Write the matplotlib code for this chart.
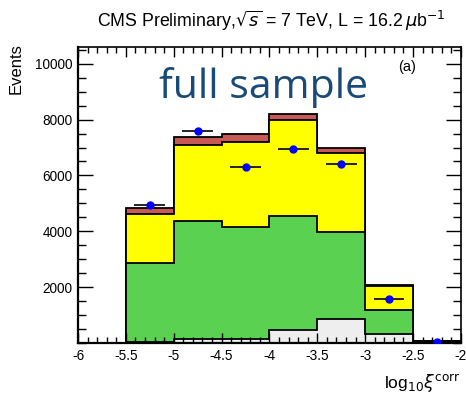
import numpy as np
import matplotlib.pyplot as plt
from matplotlib.ticker import MultipleLocator

# bin edges in log10(xi_corr)
edges = np.array([-5.5, -5.0, -4.5, -4.0, -3.5, -3.0, -2.5, -2.0])

# stacked components (bottom to top)
gray = [20, 130, 150, 450, 860, 320, 20]
green = [2840, 4240, 4020, 4100, 3120, 860, 30]
yellow = [1760, 2730, 3020, 3420, 2840, 870, 20]
red = [230, 290, 280, 230, 160, 10, 10]

# data points
data_x = [-5.25, -4.75, -4.25, -3.75, -3.25, -2.75, -2.25]
data_y = [4950, 7600, 6320, 6940, 6400, 1580, 50]

xlabels = ['-6', '-5.5', '-5', '-4.5', '-4', '-3.5', '-3', '-2.5', '-2']
ylabels = ['2000', '4000', '6000', '8000', '10000']

plt.rcParams['font.family'] = ['Liberation Sans', 'DejaVu Sans']

fig = plt.figure(figsize=(4.66, 4.0), dpi=100)
ax = fig.add_axes([0.1674, 0.1425, 0.8216, 0.74])

layers = [gray, green, yellow, red]
colors = ['#eeeeee', '#5ad150', '#ffff00', '#c85a55']
tops = np.cumsum(np.array(layers), axis=0)

# draw from the top layer down so each fill covers from zero
for top, c in zip(tops[::-1], colors[::-1]):
    ax.stairs(top, edges, baseline=0, fill=True, facecolor=c,
              edgecolor='black', linewidth=1.3)

ax.errorbar(data_x, data_y, xerr=0.16, fmt='o', color='#0000ff', ms=5,
            ecolor='black', elinewidth=1.2, capsize=0, zorder=5)

ax.set_xlim(-6, -2)
ax.set_ylim(0, 10600)
ax.xaxis.set_minor_locator(MultipleLocator(0.1))
ax.yaxis.set_minor_locator(MultipleLocator(500))
ax.set_xticks(np.arange(-6, -1.9, 0.5))
ax.set_xticklabels(xlabels)
ax.set_yticks([2000, 4000, 6000, 8000, 10000])
ax.set_yticklabels(ylabels)

ax.tick_params(which='both', direction='in', top=True, right=True,
               labelsize=9.8, width=1.0, pad=4)
ax.tick_params(axis='x', which='major', length=7)
ax.tick_params(axis='x', which='minor', length=4)
ax.tick_params(axis='y', which='major', length=11)
ax.tick_params(axis='y', which='minor', length=6)
for s in ax.spines.values():
    s.set_linewidth(1.2)
ax.spines['left'].set_linewidth(1.6)
ax.spines['bottom'].set_linewidth(1.6)

ax.text(1.0, -0.1, r'log$_{10}\xi^{\mathrm{corr}}$', transform=ax.transAxes,
        ha='right', va='top', fontsize=12.5)
fig.text(0.035, 0.892, 'Events', rotation=90, ha='center', va='top', fontsize=12)

fig.text(0.5815, 0.948, r'CMS Preliminary,$\sqrt{s}$ = 7 TeV, L = 16.2$\,\mu$b$^{-1}$',
         ha='center', va='center', fontsize=12.8)

ax.text(-4.063, 8780, 'full sample', family=['Open Sans', 'DejaVu Sans'],
        fontsize=29.5, color='#1a4a78', ha='center', va='baseline')
ax.text(-2.564, 9890, '(a)', fontsize=10.5, ha='center', va='center')

fig.savefig('out.png', dpi=100)
